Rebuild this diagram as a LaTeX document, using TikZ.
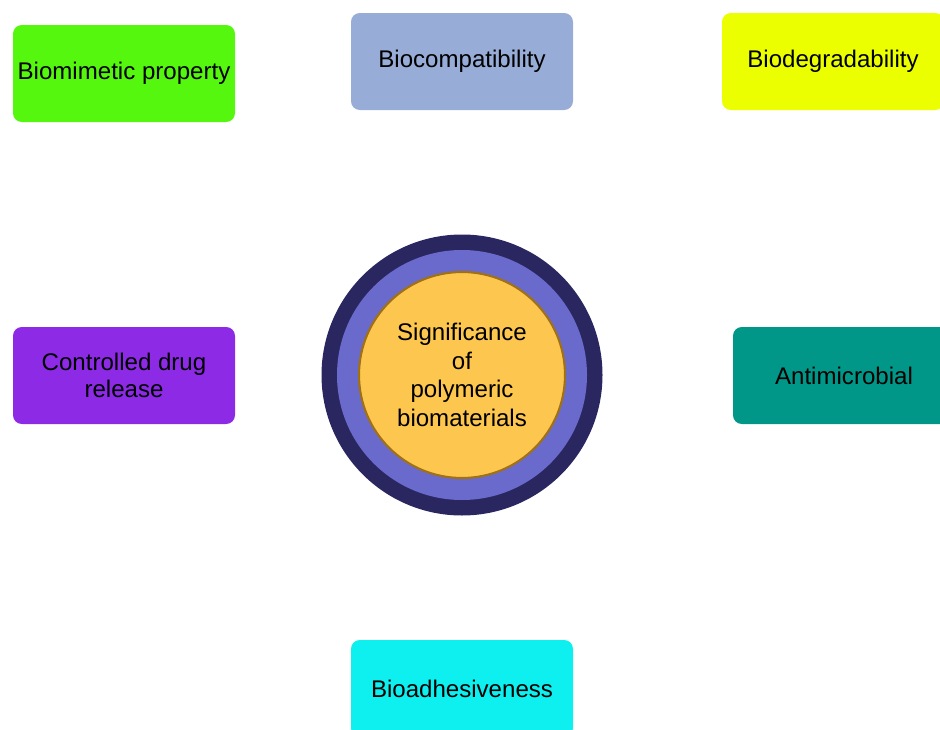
\documentclass[tikz,border=0pt]{standalone}
\usepackage{fontspec}
\setmainfont{Liberation Sans}
\usetikzlibrary{positioning}

% Colours of the boxes and rings
\definecolor{mimgreen}{RGB}{85,247,15}
\definecolor{compblue}{RGB}{151,172,214}
\definecolor{degyellow}{RGB}{236,255,0}
\definecolor{drugpurple}{RGB}{140,42,230}
\definecolor{microteal}{RGB}{0,150,136}
\definecolor{adhcyan}{RGB}{14,240,240}
\definecolor{ringnavy}{RGB}{42,39,96}
\definecolor{ringblue}{RGB}{106,106,205}
\definecolor{coreyellow}{RGB}{252,198,79}
\definecolor{corebrown}{RGB}{160,112,20}

\tikzset{
  propbox/.style={rectangle, rounded corners=5pt, minimum width=222*0.02cm,
    minimum height=97*0.02cm, inner sep=0pt, align=center,
    font=\fontsize{13.7}{15.4}\selectfont},
}

\begin{document}
\begin{tikzpicture}[x=0.02cm,y=-0.02cm]
		% Picture frame (pixels of the reference).
		\useasboundingbox (0,0) rectangle (940,730);
		\clip (0,0) rectangle (940,730);
		
		% Define radii of the centre circle.
		\def\rout{140.5}    %outer navy ring.
		\def\rmid{125}      %blue ring.
		\def\rcore{103}     %yellow core.
		
		% Centre circle
		\coordinate (ctr) at (462,375);
		\fill[ringnavy] (ctr) circle[radius=\rout];
		\fill[ringblue] (ctr) circle[radius=\rmid];
		\draw[corebrown,fill=coreyellow,line width=1.2pt] (ctr) circle[radius=\rcore];
		\node[align=center,font=\fontsize{13.7}{16.2}\selectfont] (sig) at (ctr)
		  {Significance\\of\\polymeric\\biomaterials};
		
		% Property boxes
		\node[propbox,fill=mimgreen]   (mimetic) at (124,73.5)  {Biomimetic property};
		\node[propbox,fill=compblue]   (compat)  at (462,61.5)  {Biocompatibility};
		\node[propbox,fill=degyellow]  (degrad)  at (833,61.5)  {Biodegradability};
		\node[propbox,fill=drugpurple] (release) at (124,375.5) {Controlled drug\\release};
		\node[propbox,fill=microteal]  (microb)  at (844,375.5) {Antimicrobial};
		\node[propbox,fill=adhcyan]    (adhes)   at (462,688.5) {Bioadhesiveness};
		
\end{tikzpicture}
\end{document}
